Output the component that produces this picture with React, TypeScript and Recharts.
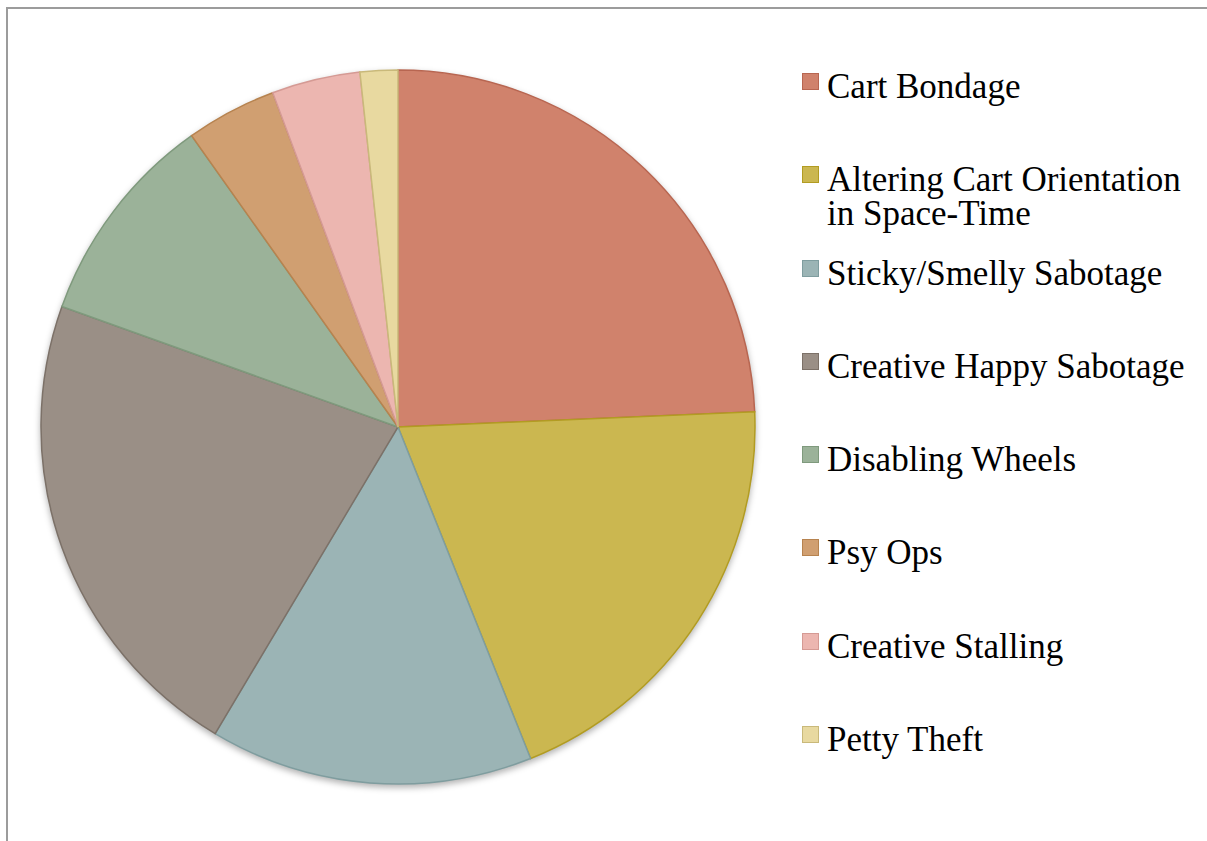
import React from 'react';
import { PieChart, Pie, Cell, Legend } from 'recharts';

const categories = [
  'Cart Bondage',
  'Altering Cart Orientation in Space-Time',
  'Sticky/Smelly Sabotage',
  'Creative Happy Sabotage',
  'Disabling Wheels',
  'Psy Ops',
  'Creative Stalling',
  'Petty Theft',
];
const shares = [24.3, 19.6, 14.6, 21.9, 9.7, 4.1, 4.0, 1.7];
const fills = ['#D0826C', '#CBB750', '#9BB4B5', '#9A8F86', '#9BB299', '#D09F71', '#ECB6B0', '#E8D9A0'];
const edges = ['#B86651', '#B29C22', '#7F9D9F', '#7C7168', '#7F9A7D', '#B7834F', '#D59A94', '#C9B97A'];

const data = categories.map((name, i) => ({ name, value: shares[i] }));

const renderLegend = () => (
  <div style={{ fontFamily: '"Liberation Serif", serif', fontSize: 35, color: '#000' }}>
    {categories.map((name, i) => (
      <div key={name} style={{ position: 'relative', height: 93.3 }}>
        <div
          style={{
            position: 'absolute',
            left: 0,
            top: 0,
            width: 15,
            height: 15,
            background: fills[i],
            border: `1.5px solid ${edges[i]}`,
          }}
        />
        <div style={{ position: 'absolute', left: 25, top: -3, width: 370, lineHeight: '34px' }}>{name}</div>
      </div>
    ))}
  </div>
);

export default function App() {
  return (
    <div
      style={{
        position: 'absolute',
        left: 6,
        top: 7,
        width: 1201,
        height: 834,
        borderLeft: '2px solid #9c9c9c',
        borderTop: '2px solid #9c9c9c',
        background: '#fff',
      }}
    >
      <style>{'.recharts-pie { filter: drop-shadow(0px 3px 3px rgba(0,0,0,0.3)); }'}</style>
      <PieChart width={1199} height={832} margin={{ top: 0, right: 0, bottom: 0, left: 0 }}>
        <Pie
          data={data}
          dataKey="value"
          nameKey="name"
          cx={390}
          cy={418}
          outerRadius={357}
          startAngle={90}
          endAngle={-270}
          isAnimationActive={false}
          strokeWidth={1.5}
        >
          {data.map((d, i) => (
            <Cell key={d.name} fill={fills[i]} stroke={edges[i]} />
          ))}
        </Pie>
        <Legend
          layout="vertical"
          content={renderLegend}
          wrapperStyle={{ left: 794, top: 64, width: 400, bottom: 'auto', right: 'auto' }}
        />
      </PieChart>
    </div>
  );
}
